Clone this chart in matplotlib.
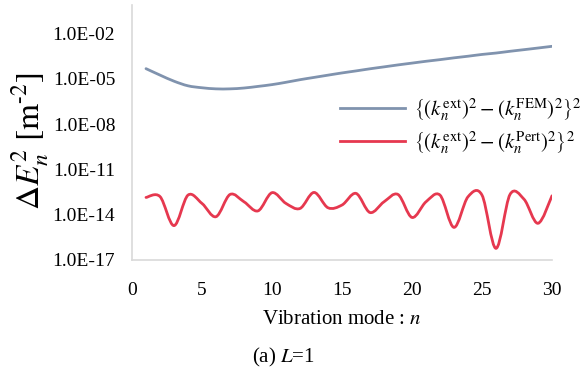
import numpy as np
import matplotlib
matplotlib.use("Agg")
import matplotlib.pyplot as plt
from matplotlib.path import Path
from matplotlib.patches import PathPatch
from matplotlib.lines import Line2D

# Squared eigenvalue error for each vibration mode
modes = list(range(1, 31))
err_fem = [4.8e-5, 1.8e-5, 7.1e-6, 3.5e-6, 2.6e-6, 2.2e-6, 2.2e-6, 2.5e-6, 3.2e-6, 4.2e-6,
           6.0e-6, 8.9e-6, 1.26e-5, 1.78e-5, 2.5e-5, 3.4e-5, 4.7e-5, 6.3e-5, 8.5e-5, 1.12e-4,
           1.48e-4, 1.9e-4, 2.5e-4, 3.2e-4, 4.2e-4, 5.2e-4, 6.8e-4, 8.7e-4, 1.12e-3, 1.45e-3]
err_pert = [1.4e-13, 1.6e-13, 1.9e-15, 2.0e-13, 5.6e-14, 7.4e-15, 2.2e-13, 7.2e-14, 1.8e-14, 2.9e-13,
            5.6e-14, 2.6e-14, 3.0e-13, 2.9e-14, 4.4e-14, 2.6e-13, 1.4e-14, 7.2e-14, 2.2e-13, 6.6e-15,
            7.2e-14, 2.0e-13, 1.45e-15, 1.55e-13, 2.0e-13, 5.9e-17, 2.2e-13, 1.07e-13, 2.7e-15, 1.8e-13]
ytick_exps = [-17, -14, -11, -8, -5, -2]
xticks = [0, 5, 10, 15, 20, 25, 30]

BLUE = "#8093AE"
RED = "#E6384F"

plt.rcParams["mathtext.fontset"] = "stix"
serif = ["Liberation Serif", "DejaVu Serif"]


def smooth_path(x, y):
    """Catmull-Rom style cubic Bezier through the points (smoothed line)."""
    pts = np.column_stack([x, y]).astype(float)
    n = len(pts)
    verts = [pts[0]]
    codes = [Path.MOVETO]
    for i in range(n - 1):
        p0 = pts[i - 1] if i > 0 else pts[i]
        p1 = pts[i]
        p2 = pts[i + 1]
        p3 = pts[i + 2] if i + 2 < n else pts[i + 1]
        c1 = p1 + (p2 - p0) / 6.0
        c2 = p2 - (p3 - p1) / 6.0
        verts += [c1, c2, p2]
        codes += [Path.CURVE4] * 3
    return Path(verts, codes)


fig = plt.figure(figsize=(5.84, 3.71), dpi=100)
ax = fig.add_axes([132 / 584, 1 - 260 / 371, 420 / 584, 255 / 371])

for vals, col in [(err_fem, BLUE), (err_pert, RED)]:
    patch = PathPatch(smooth_path(modes, np.log10(vals)), facecolor="none",
                      edgecolor=col, lw=2.0, capstyle="round", joinstyle="round")
    ax.add_patch(patch)

ax.set_xlim(0, 30)
ax.set_ylim(-17, -0.1)
ax.set_xticks(xticks)
ax.set_xticklabels([str(t) for t in xticks], fontfamily=serif, fontsize=14)
ax.set_yticks(ytick_exps)
ax.set_yticklabels([f"1.0E-{-e:02d}" for e in ytick_exps], fontfamily=serif, fontsize=14)
ax.tick_params(axis="x", length=0, pad=16)
ax.tick_params(axis="y", length=0, pad=12)
for s in ["top", "right"]:
    ax.spines[s].set_visible(False)
for s in ["left", "bottom"]:
    ax.spines[s].set_color("#D9D9D9")
    ax.spines[s].set_linewidth(1.2)

ax.set_xlabel(r"Vibration mode : $\mathit{n}$", fontfamily=serif, fontsize=15, labelpad=8)
fig.text(0.052, 0.62, r"$\Delta E_n^2\ [\mathrm{m}^{\text{-}2}]$", rotation=90,
         fontsize=24, ha="center", va="center")
fig.text(252 / 584, 1 - 357 / 371, r"(a) $\mathit{L}$=1", fontfamily=serif, fontsize=15,
         ha="left", va="center")

handles = [Line2D([], [], color=BLUE, lw=2.0), Line2D([], [], color=RED, lw=2.0)]
labels = [r"$\left\{(k_n^{\rm ext})^2-(k_n^{\rm FEM})^2\right\}^2$",
          r"$\left\{(k_n^{\rm ext})^2-(k_n^{\rm Pert})^2\right\}^2$"]
ax.legend(handles, labels, loc="center left", bbox_to_anchor=(330 / 584, 1 - 126 / 371),
          bbox_transform=fig.transFigure, frameon=False, fontsize=15,
          handlelength=3.1, handletextpad=0.45, labelspacing=0.3, borderpad=0)

fig.savefig("out.png", dpi=100)
